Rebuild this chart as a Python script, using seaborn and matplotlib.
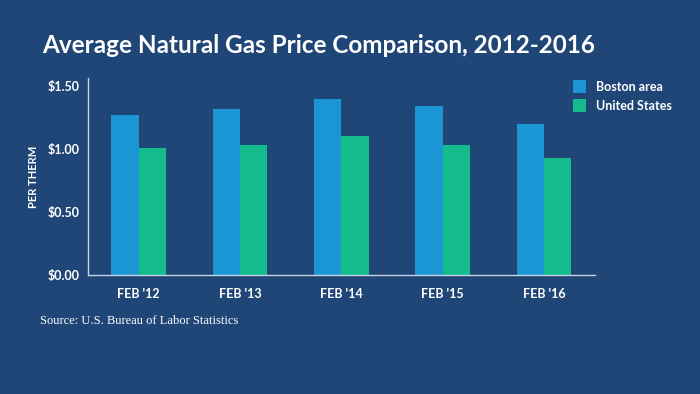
import pandas as pd
import matplotlib.pyplot as plt
import seaborn as sns

# Data
years = ["FEB '12", "FEB '13", "FEB '14", "FEB '15", "FEB '16"]
boston = [1.27, 1.32, 1.40, 1.34, 1.20]
us = [1.01, 1.03, 1.10, 1.03, 0.93]

df = pd.DataFrame({
    'Year': years * 2,
    'Price': boston + us,
    'Region': ['Boston area'] * len(years) + ['United States'] * len(years),
})

bg = "#1f4677"
sns.set_theme(style="white")
plt.rcParams['font.family'] = ['Lato', 'DejaVu Sans']

fig = plt.figure(figsize=(7, 3.94), dpi=100, facecolor=bg)
ax = fig.add_axes([0.1257, 0.302, 0.724, 0.5])
ax.set_facecolor(bg)

sns.barplot(data=df, x='Year', y='Price', hue='Region',
            palette=["#1a96d5", "#14bc8b"], width=0.54, saturation=1,
            linewidth=0, ax=ax)

ax.set_xlim(-0.5, 4.5)
ax.set_ylim(0, 1.563)
ax.set_yticks([0, 0.5, 1.0, 1.5])
ax.set_yticklabels(['$0.00', '$0.50', '$1.00', '$1.50'])
ax.tick_params(axis='both', colors='white', labelsize=9, length=0)
ax.tick_params(axis='y', pad=6)
ax.tick_params(axis='x', pad=9)
for lbl in ax.get_xticklabels() + ax.get_yticklabels():
    lbl.set_fontweight('bold')
ax.set_xlabel('')
ax.set_ylabel('PER THERM', color='white', fontsize=8, fontweight='bold', labelpad=6)

for side in ['top', 'right']:
    ax.spines[side].set_visible(False)
for side in ['left', 'bottom']:
    ax.spines[side].set_color('#c8d4e4')
    ax.spines[side].set_linewidth(1)

leg = ax.legend(loc='upper left', bbox_to_anchor=(0.935, 1.045), frameon=False,
                handlelength=1.0, handleheight=1.2, fontsize=9, labelspacing=0.5,
                handletextpad=0.8)
for t in leg.get_texts():
    t.set_color('white')
    t.set_fontweight('bold')

fig.text(0.06, 0.885, 'Average Natural Gas Price Comparison, 2012-2016',
         color='white', fontsize=17.5, fontweight='bold', va='center')
fig.text(0.057, 0.185, 'Source: U.S. Bureau of Labor Statistics',
         color='white', fontsize=9, family=['Liberation Serif', 'DejaVu Serif'], va='center')

plt.savefig("out.png", dpi=100, facecolor=bg)
